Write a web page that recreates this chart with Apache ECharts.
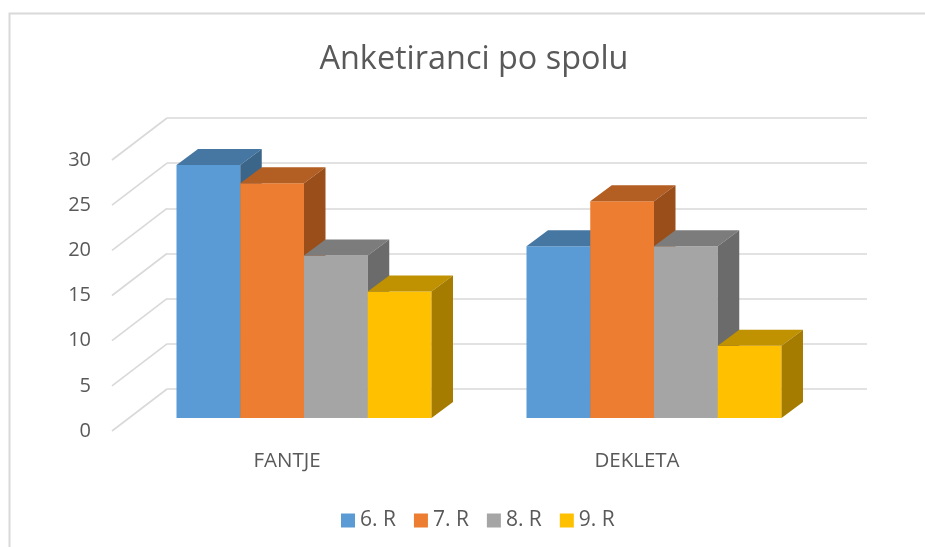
<!DOCTYPE html>
<html><head><meta charset="utf-8">
<style>html,body{margin:0;padding:0;background:#fff}#c{width:925px;height:547px}</style>
<script src="https://cdn.jsdelivr.net/npm/echarts@6/dist/echarts.min.js"></script>
</head><body><div id="c"></div>
<script>
const categories = ['FANTJE', 'DEKLETA'];
const seriesNames = ['6. R', '7. R', '8. R', '9. R'];
const r6 = [28, 19];
const r7 = [26, 24];
const r8 = [18, 19];
const r9 = [14, 8];
const ticks = [0, 5, 10, 15, 20, 25, 30];
const colors = [
  { front: '#5B9BD5', top: '#4676A2', side: '#3B6589' },
  { front: '#ED7D31', top: '#B35E22', side: '#9A4F1B' },
  { front: '#A5A5A5', top: '#7C7C7C', side: '#6B6B6B' },
  { front: '#FFC000', top: '#C09100', side: '#A67C00' }
];
const FONT = '"Open Sans"';
const TXT = '#595959', LINE = '#D9D9D9';
// projection offsets of the 3D look
const wall = [55, -42], plane = [17, -13], depth = [21.5, -16], barW = 63.75;

function barRender(idx) {
  return function (params, api) {
    const p = api.coord([api.value(0), api.value(1)]);
    const b = api.coord([api.value(0), 0]);
    const x0 = p[0] + plane[0] + (idx - 2) * barW, x1 = x0 + barW;
    const yt = p[1] + plane[1], yb = b[1] + plane[1];
    const c = colors[idx];
    const dx = depth[0], dy = depth[1];
    const poly = (points, fill) => ({ type: 'polygon', shape: { points }, style: { fill } });
    return { type: 'group', children: [
      poly([[x0, yb], [x1, yb], [x1, yt], [x0, yt]], c.front),
      poly([[x0, yt], [x1, yt], [x1 + dx, yt + dy], [x0 + dx, yt + dy]], c.top),
      poly([[x1, yb], [x1 + dx, yb + dy], [x1 + dx, yt + dy], [x1, yt]], c.side)
    ] };
  };
}
const values = [r6, r7, r8, r9];
const barSeries = values.map((vals, i) => ({
  name: seriesNames[i], type: 'custom', xAxisIndex: 0, yAxisIndex: 0, z: 5 + i,
  itemStyle: { color: colors[i].front },
  encode: { x: 0, y: 1 },
  data: vals.map((v, k) => [k, v]),
  renderItem: barRender(i), silent: true
}));
const diagSeries = {
  type: 'custom', xAxisIndex: 0, yAxisIndex: 0, z: 1, silent: true,
  encode: { y: 0 }, data: ticks.map(t => [t]),
  renderItem(params, api) {
    const y = api.coord([0, api.value(0)])[1];
    const x = params.coordSys.x;
    return { type: 'line', shape: { x1: x, y1: y, x2: x + wall[0], y2: y + wall[1] },
      style: { stroke: LINE, lineWidth: 1.6, fill: null } };
  }
};
const chart = echarts.init(document.getElementById('c'), null, { renderer: 'canvas' });
chart.setOption({
  animation: false, backgroundColor: '#fff',
  title: { text: 'Anketiranci po spolu', left: 469, top: 39, textAlign: 'center',
    textStyle: { color: TXT, fontFamily: FONT, fontSize: 32.4, fontWeight: 'normal' } },
  legend: { left: 336, top: 505, itemWidth: 14, itemHeight: 14, itemGap: 18, icon: 'rect',
    selectedMode: false, data: seriesNames,
    textStyle: { color: TXT, fontFamily: FONT, fontSize: 21, padding: [0, 0, 0, 0] } },
  graphic: [{ type: 'rect', silent: true, z: -1,
    shape: { x: 9.5, y: 13.5, width: 1000, height: 1000 },
    style: { fill: null, stroke: LINE, lineWidth: 2 } }],
  grid: [
    { left: 112, top: 160, width: 700, height: 271 },
    { left: 167, top: 118, width: 700, height: 271 }
  ],
  xAxis: [
    { gridIndex: 0, type: 'category', data: categories,
      axisLine: { show: false }, axisTick: { show: false }, splitLine: { show: false },
      axisLabel: { color: TXT, fontFamily: FONT, fontSize: 20.5, margin: 20 } },
    { gridIndex: 1, type: 'category', data: categories, show: false }
  ],
  yAxis: [
    { gridIndex: 0, type: 'value', min: 0, max: 30, interval: 5,
      axisLine: { show: false }, axisTick: { show: false }, splitLine: { show: false },
      axisLabel: { color: TXT, fontFamily: FONT, fontSize: 20, margin: 21 } },
    { gridIndex: 1, type: 'value', min: 0, max: 30, interval: 5,
      axisLine: { show: false }, axisTick: { show: false }, axisLabel: { show: false },
      splitLine: { show: true, lineStyle: { color: LINE, width: 1.6 } } }
  ],
  series: [diagSeries].concat(barSeries)
});
</script></body></html>
